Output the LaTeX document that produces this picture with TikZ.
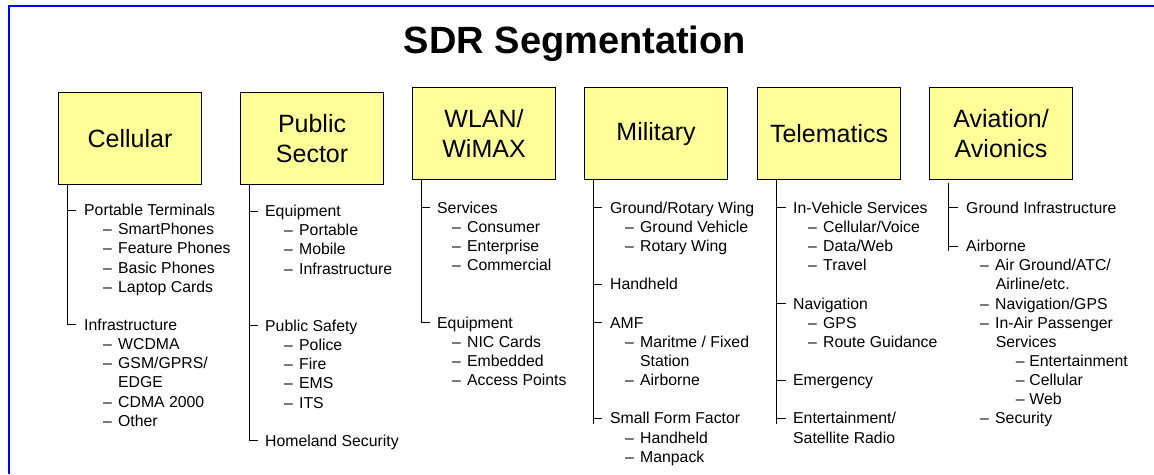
\documentclass[tikz,border=0pt]{standalone}
\usepackage{fontspec}
\setmainfont{Liberation Sans}
\definecolor{boxyellow}{HTML}{FFFF99}
\definecolor{framblue}{HTML}{0000FF}
\begin{document}
\begin{tikzpicture}[x=1pt,y=-1pt]
\tikzset{
  catbox/.style={draw=black, line width=1.1pt, fill=boxyellow, anchor=north west,
    minimum width=143pt, minimum height=92pt, inner sep=0pt, align=center,
    font=\fontsize{25}{30.5}\selectfont},
  item/.style={anchor=west, inner sep=0pt, text height=11.2pt, text depth=0pt,
    font=\fontsize{15.8}{19}\selectfont},
  conn/.style={draw=black, line width=0.9pt},
  tick/.style={draw=black, line width=0.9pt},
  frame/.style={draw=framblue, line width=1.8pt},
}
\newcommand{\dd}{\makebox[15pt][l]{–}}
\newcommand{\ddd}{\makebox[13.5pt][l]{–}}
\useasboundingbox (0,0) rectangle (1154,474);
\fill[white] (0,0) rectangle (1154,474);

% slide frame (top and left edges)
\draw[frame] (9.3,474) -- (9.3,6) -- (1154,6);

% title
\node[anchor=base, font=\bfseries\fontsize{38}{40}\selectfont] (title) at (575,53.3) {SDR Segmentation};

% category boxes
\node[catbox] (cell) at (58,92)  {Cellular};
\node[catbox] (pub)  at (240,92) {Public\\Sector};
\node[catbox] (wlan) at (412,87) {WLAN/\\WiMAX};
\node[catbox] (mil)  at (584,87) {Military};
\node[catbox] (tel)  at (757,87) {Telematics};
\node[catbox] (avi)  at (929,87) {Aviation/\\Avionics};

% ---------- Cellular ----------
\node[item] (c1a) at (84,210)    {Portable Terminals};
\node[item] (c1b) at (103,229.15) {\dd SmartPhones};
\node[item] (c1c) at (103,248.3)  {\dd Feature Phones};
\node[item] (c1d) at (103,267.45) {\dd Basic Phones};
\node[item] (c1e) at (103,286.6)  {\dd Laptop Cards};
\node[item] (c1f) at (84,324.9)   {Infrastructure};
\node[item] (c1g) at (103,344.05) {\dd WCDMA};
\node[item] (c1h) at (103,363.2)  {\dd GSM/GPRS/};
\node[item] (c1i) at (118,382.35) {EDGE};
\node[item] (c1j) at (103,401.5)  {\dd CDMA 2000};
\node[item] (c1k) at (103,420.65) {\dd Other};
\coordinate (c1end) at (67,324.9);
\draw[conn] (cell.south -| c1end) -- (c1end);
\foreach \n in {c1a,c1f} \draw[tick] (c1end |- \n.west) -- ++(9,0);

% ---------- Public Sector ----------
\node[item] (c2a) at (265,211)    {Equipment};
\node[item] (c2b) at (284,230.15) {\dd Portable};
\node[item] (c2c) at (284,249.3)  {\dd Mobile};
\node[item] (c2d) at (284,268.45) {\dd Infrastructure};
\node[item] (c2e) at (265,325.9)  {Public Safety};
\node[item] (c2f) at (284,345.05) {\dd Police};
\node[item] (c2g) at (284,364.2)  {\dd Fire};
\node[item] (c2h) at (284,383.35) {\dd EMS};
\node[item] (c2i) at (284,402.5)  {\dd ITS};
\node[item] (c2j) at (265,440.8)  {Homeland Security};
\coordinate (c2end) at (249,440.8);
\draw[conn] (pub.south -| c2end) -- (c2end);
\foreach \n in {c2a,c2e,c2j} \draw[tick] (c2end |- \n.west) -- ++(9,0);

% ---------- WLAN / WiMAX ----------
\node[item] (c3a) at (437,207.7)  {Services};
\node[item] (c3b) at (452,226.85) {\dd Consumer};
\node[item] (c3c) at (452,246)    {\dd Enterprise};
\node[item] (c3d) at (452,265.15) {\dd Commercial};
\node[item] (c3e) at (437,322.6)  {Equipment};
\node[item] (c3f) at (452,341.75) {\dd NIC Cards};
\node[item] (c3g) at (452,360.9)  {\dd Embedded};
\node[item] (c3h) at (452,380.05) {\dd Access Points};
\coordinate (c3end) at (421,322.6);
\draw[conn] (wlan.south -| c3end) -- (c3end);
\foreach \n in {c3a,c3e} \draw[tick] (c3end |- \n.west) -- ++(8.5,0);

% ---------- Military ----------
\node[item] (c4a) at (610,207.7)  {Ground/Rotary Wing};
\node[item] (c4b) at (625,226.85) {\dd Ground Vehicle};
\node[item] (c4c) at (625,246)    {\dd Rotary Wing};
\node[item] (c4d) at (610,284.3)  {Handheld};
\node[item] (c4e) at (610,322.6)  {AMF};
\node[item] (c4f) at (625,341.75) {\dd Maritme / Fixed};
\node[item] (c4g) at (640,360.9)  {Station};
\node[item] (c4h) at (625,380.05) {\dd Airborne};
\node[item] (c4i) at (610,418.35) {Small Form Factor};
\node[item] (c4j) at (625,437.5)  {\dd Handheld};
\node[item] (c4k) at (625,456.65) {\dd Manpack};
\coordinate (c4end) at (593,423.5);
\draw[conn] (mil.south -| c4end) -- (c4end);
\foreach \n in {c4a,c4d,c4e,c4i} \draw[tick] (c4end |- \n.west) -- ++(9,0);

% ---------- Telematics ----------
\node[item] (c5a) at (793,207.7)  {In-Vehicle Services};
\node[item] (c5b) at (808,226.85) {\dd Cellular/Voice};
\node[item] (c5c) at (808,246)    {\dd Data/Web};
\node[item] (c5d) at (808,265.15) {\dd Travel};
\node[item] (c5e) at (793,303.45) {Navigation};
\node[item] (c5f) at (808,322.6)  {\dd GPS};
\node[item] (c5g) at (808,341.75) {\dd Route Guidance};
\node[item] (c5h) at (793,380.05) {Emergency};
\node[item] (c5i) at (793,418.35) {Entertainment/};
\node[item] (c5j) at (793,437.5)  {Satellite Radio};
\coordinate (c5end) at (776,423.5);
\draw[conn] (tel.south -| c5end) -- (c5end);
\foreach \n in {c5a,c5e,c5h,c5i} \draw[tick] (c5end |- \n.west) -- ++(10,0);

% ---------- Aviation / Avionics ----------
\node[item] (c6a) at (966,207.7)   {Ground Infrastructure};
\node[item] (c6b) at (966,246)     {Airborne};
\node[item] (c6c) at (980,265.15)  {\dd Air Ground/ATC/};
\node[item] (c6d) at (995.7,284.3) {Airline/etc.};
\node[item] (c6e) at (980,303.45)  {\dd Navigation/GPS};
\node[item] (c6f) at (980,322.6)   {\dd In-Air Passenger};
\node[item] (c6g) at (995.7,341.75) {Services};
\node[item] (c6h) at (1015.7,360.9) {\ddd Entertainment};
\node[item] (c6i) at (1015.7,380.05) {\ddd Cellular};
\node[item] (c6j) at (1015.7,399.2) {\ddd Web};
\node[item] (c6k) at (980,418.35)  {\dd Security};
\coordinate (c6top) at (948,183);
\coordinate (c6end) at (948,251);
\draw[conn] (c6top) -- (c6end);
\foreach \n in {c6a,c6b} \draw[tick] (c6end |- \n.west) -- ++(9.5,0);
\end{tikzpicture}
\end{document}
